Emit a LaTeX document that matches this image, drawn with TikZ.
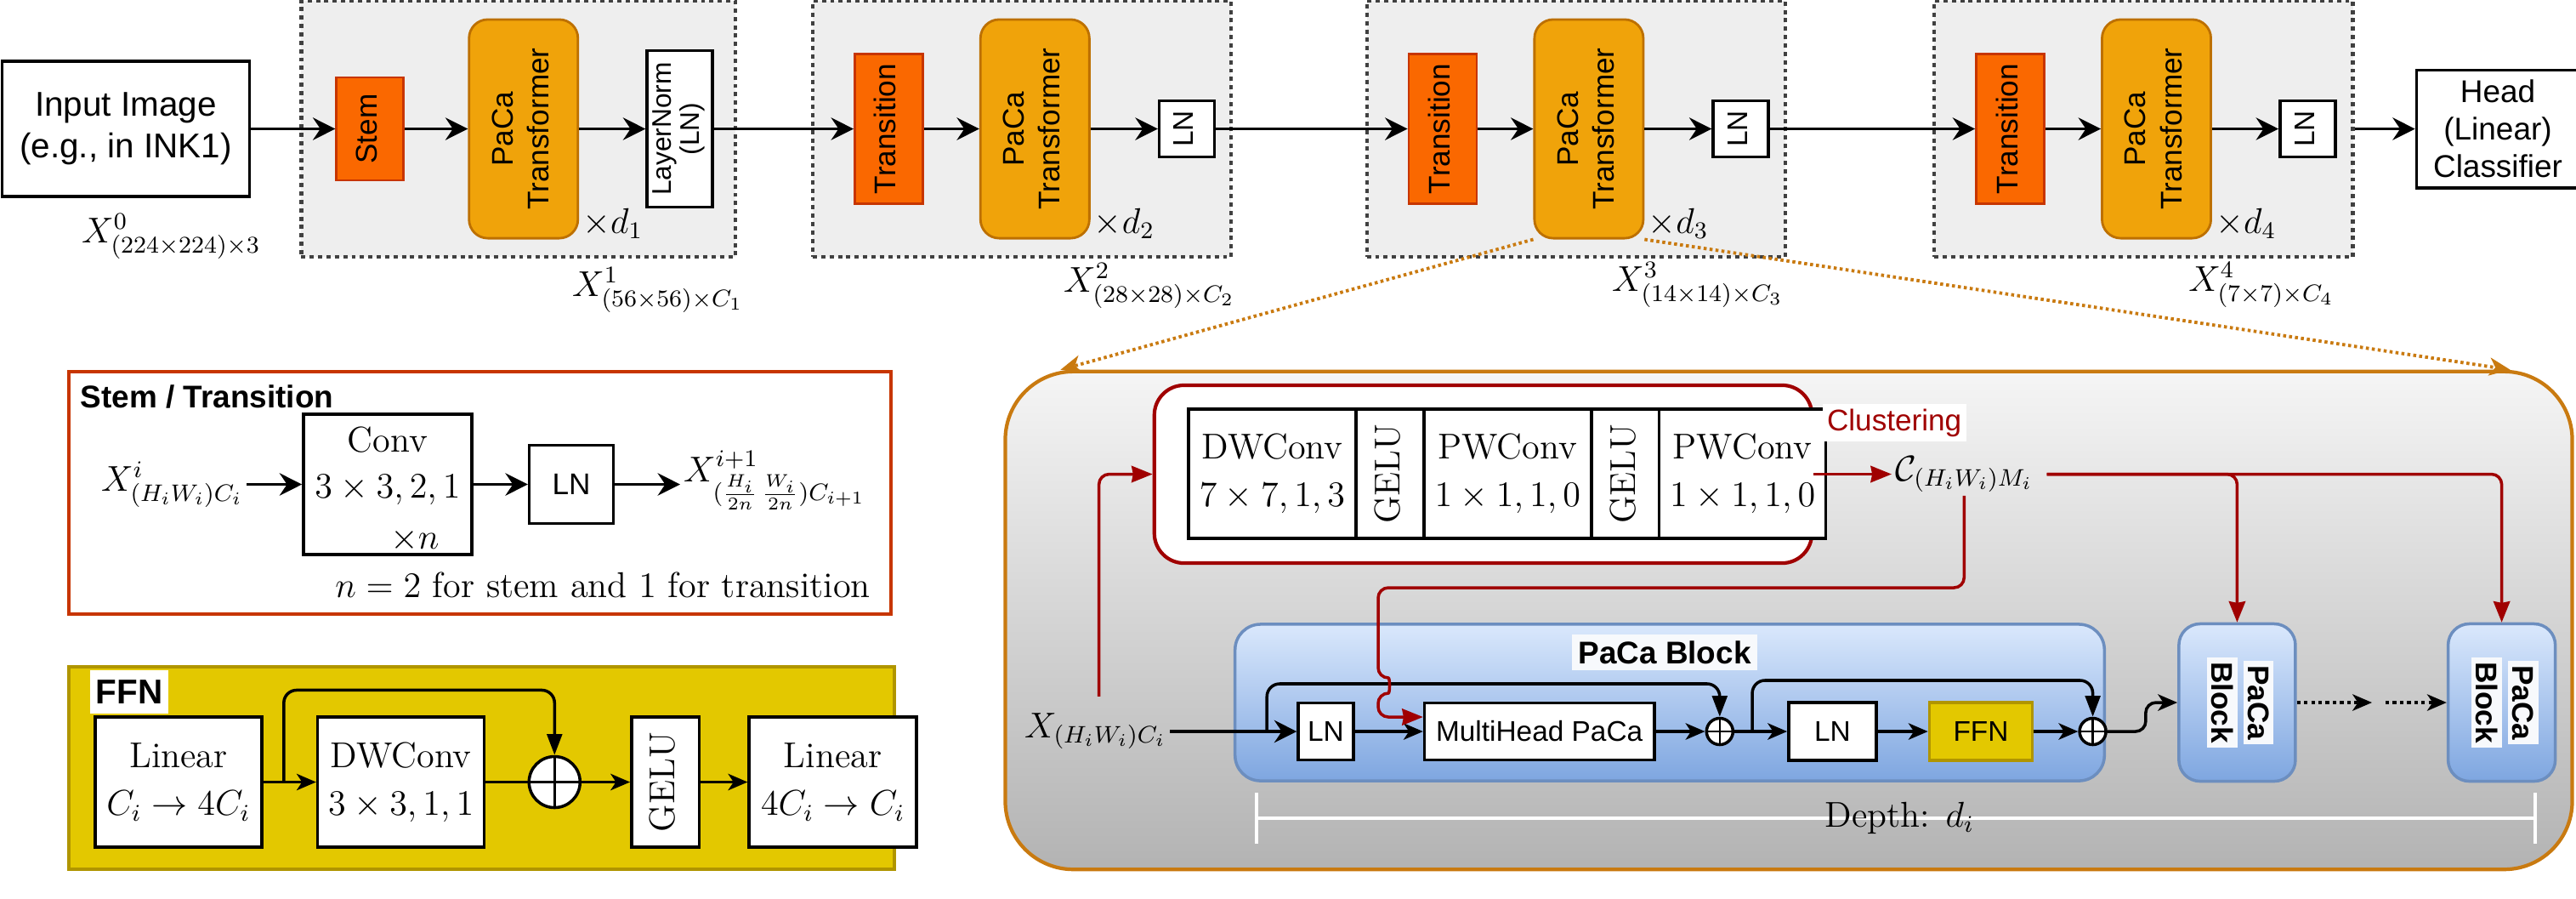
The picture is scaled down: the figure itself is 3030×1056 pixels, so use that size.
\documentclass[tikz,border=0pt]{standalone}
\usepackage{amsmath}
\usepackage{amssymb}
\usepackage{fontspec}
\usepackage{tikz}
\usetikzlibrary{arrows.meta,positioning}

\newfontfamily\hv{Liberation Sans}
\setlength{\fboxsep}{1.5pt}

\definecolor{stemfill}{HTML}{FA6800}
\definecolor{stemline}{HTML}{C73500}
\definecolor{pacafill}{HTML}{F0A30A}
\definecolor{pacaline}{HTML}{BD7000}
\definecolor{stagefill}{HTML}{EEEEEE}
\definecolor{ffnfill}{HTML}{E3C800}
\definecolor{ffnline}{HTML}{B09500}
\definecolor{clured}{HTML}{A00000}
\definecolor{zoomline}{HTML}{C97A10}
\definecolor{zoomtop}{HTML}{F5F5F5}
\definecolor{zoombot}{HTML}{B3B3B3}
\definecolor{blocktop}{HTML}{DAE8FC}
\definecolor{blockbot}{HTML}{7EA6E0}
\definecolor{blockline}{HTML}{6C8EBF}
\definecolor{labelbg}{HTML}{F7F9FC}

\newcommand{\vlab}[1]{\rotatebox{90}{\begin{tabular}{@{}c@{}}#1\end{tabular}}}
\newcommand{\vlabr}[1]{\rotatebox{-90}{\begin{tabular}{@{}c@{}}#1\end{tabular}}}

\begin{document}
\begin{tikzpicture}[x=0.01cm,y=-0.01cm,
    flow/.style={-{Stealth[length=7.5pt,width=7.5pt,inset=2.5pt]},line width=1pt},
    thinflow/.style={-{Stealth[length=6.5pt,width=5.5pt,inset=1.8pt]},line width=1pt},
    skipflow/.style={-{Stealth[length=7pt,width=5pt,inset=0pt]},line width=1pt,rounded corners=0.15cm},
    redflow/.style={-{Stealth[length=7pt,width=5.5pt,inset=0.5pt]},draw=clured,line width=1pt,rounded corners=0.12cm},
    stagebox/.style={draw=black!75,fill=stagefill,line width=1.2pt,dash pattern=on 1.4pt off 1.4pt,minimum width=4.92cm,minimum height=3.01cm},
    stembox/.style={draw=stemline,fill=stemfill,line width=0.8pt,minimum width=0.8cm,minimum height=1.73cm,font=\hv\fontsize{10}{12}\selectfont},
    pacabox/.style={draw=pacaline,fill=pacafill,line width=0.8pt,rounded corners=0.22cm,minimum width=1.28cm,minimum height=2.57cm,font=\hv\fontsize{10}{12}\selectfont},
    lnbox/.style={draw,fill=white,line width=1pt,minimum width=0.65cm,minimum height=0.66cm,inner sep=1pt,font=\hv\fontsize{9.5}{11}\selectfont},
    blk/.style={draw,fill=white,line width=1pt,align=center,font=\fontsize{12}{16}\selectfont},
    cell/.style={blk,outer sep=0pt,minimum height=1.52cm},
    sumnode/.style={circle,draw,fill=white,line width=1pt,inner sep=0pt,
      path picture={\draw[line width=0.7pt] (path picture bounding box.north) -- (path picture bounding box.south)
        (path picture bounding box.west) -- (path picture bounding box.east);}},
    blueblk/.style={draw=blockline,line width=1pt,top color=blocktop,bottom color=blockbot},
    mathlab/.style={font=\fontsize{12}{14}\selectfont,inner sep=1pt},
    sanslab/.style={font=\hv\fontsize{10}{12}\selectfont},
  ]
  \useasboundingbox (0,0) rectangle (3030,1056);

  % backbone
  \node[draw,line width=1pt,minimum width=2.91cm,minimum height=1.59cm,align=center,
        font=\hv\fontsize{11.5}{14}\selectfont] (img) at (148,151.5) {Input Image\\(e.g., in INK1)};
  \node[stagebox,minimum width=5.10cm,right=0.57cm of img] (s1) {};
  \node[stagebox,right=0.87cm of s1] (s2) {};
  \node[stagebox,right=1.55cm of s2] (s3) {};
  \node[stagebox,right=1.71cm of s3] (s4) {};
  \node[draw,line width=1pt,minimum width=1.91cm,minimum height=1.31cm,align=center,
        font=\hv\fontsize{10.5}{12.5}\selectfont,right=0.71cm of s4] (head) {Head\\(Linear)\\Classifier};

  \node[stembox,minimum width=0.79cm,minimum height=1.21cm,right=0.42cm of s1.west] (stem) {\vlab{Stem}};
  \node[pacabox,right=0.74cm of stem] (pa1) {\vlab{PaCa\\Transformer}};
  \node[lnbox,minimum width=0.77cm,minimum height=1.84cm,font=\hv\fontsize{9}{9.5}\selectfont,
        right=0.78cm of pa1] (ln1) {\vlab{LayerNorm\\(LN)}};

  \node[stembox,right=0.5cm of s2.west] (t2) {\vlab{Transition}};
  \node[pacabox,right=0.65cm of t2] (pa2) {\vlab{PaCa\\Transformer}};
  \node[lnbox,right=0.79cm of pa2] (ln2) {\vlab{LN}};

  \node[stembox,right=0.5cm of s3.west] (t3) {\vlab{Transition}};
  \node[pacabox,right=0.65cm of t3] (pa3) {\vlab{PaCa\\Transformer}};
  \node[lnbox,right=0.79cm of pa3] (ln3) {\vlab{LN}};

  \node[stembox,right=0.5cm of s4.west] (t4) {\vlab{Transition}};
  \node[pacabox,right=0.65cm of t4] (pa4) {\vlab{PaCa\\Transformer}};
  \node[lnbox,right=0.78cm of pa4] (ln4) {\vlab{LN}};

  \node[mathlab,anchor=base west] (d1) at ([yshift=0.07cm]pa1.south east) {$\times d_1$};
  \node[mathlab,anchor=base west] (d2) at ([yshift=0.07cm]pa2.south east) {$\times d_2$};
  \node[mathlab,anchor=base west] (d3) at ([yshift=0.07cm]pa3.south east) {$\times d_3$};
  \node[mathlab,anchor=base west] (d4) at ([yshift=0.07cm]pa4.south east) {$\times d_4$};

  \node[mathlab,anchor=base west] (x0) at (92,285) {$X^{0}_{(224\times 224)\times 3}$};
  \node[mathlab,anchor=base west] (x1) at (669,348) {$X^{1}_{(56\times 56)\times C_1}$};
  \node[mathlab,anchor=base west] (x2) at (1247,343) {$X^{2}_{(28\times 28)\times C_2}$};
  \node[mathlab,anchor=base west] (x3) at (1892,342) {$X^{3}_{(14\times 14)\times C_3}$};
  \node[mathlab,anchor=base west] (x4) at (2570,342) {$X^{4}_{(7\times 7)\times C_4}$};

  \path[flow]
    (img) edge (stem)
    (stem) edge (pa1)
    (pa1) edge (ln1)
    (ln1) edge (t2)
    (t2) edge (pa2)
    (pa2) edge (ln2)
    (ln2) edge (t3)
    (t3) edge (pa3)
    (pa3) edge (ln3)
    (ln3) edge (t4)
    (t4) edge (pa4)
    (pa4) edge (ln4)
    (s4) edge (head);

  % stem / transition
  \node[draw=stemline,line width=1.2pt,minimum width=9.67cm,minimum height=2.85cm] (stbox) at (564.5,579.5) {};
  \node[anchor=north west,inner sep=0pt,font=\hv\bfseries\fontsize{10.5}{12}\selectfont] (sttitle) at (94,452) {Stem / Transition};
  \node[mathlab,anchor=base west] (xin) at (115,577) {$X^{i}_{(H_iW_i)C_i}$};
  \node[blk,minimum width=1.98cm,minimum height=1.65cm] (conv) at (456,569.5) {};
  \node[mathlab,anchor=north,align=center,font=\fontsize{12}{15.5}\selectfont] (convtxt) at ([yshift=-0.12cm]conv.north) {Conv\\$3\times 3,2,1$};
  \node[mathlab,anchor=base east] (convn) at ([xshift=-0.36cm,yshift=0.08cm]conv.south east) {$\times n$};
  \node[lnbox,minimum width=0.99cm,minimum height=0.92cm,font=\hv\fontsize{10}{12}\selectfont,right=0.64cm of conv] (stln) {LN};
  \node[mathlab,anchor=base west] (xout) at (800,566) {$X^{i+1}_{(\frac{H_i}{2n}\,\frac{W_i}{2n})C_{i+1}}$};
  \node[mathlab] (stnote) at (709,688) {$n=2$ for stem and $1$ for transition};
  \draw[flow] (xin.east |- conv) -- (conv);
  \draw[flow] (conv) -- (stln);
  \draw[flow] (stln) -- (stln -| xout.west);

  % FFN
  \node[draw=ffnline,fill=ffnfill,line width=1.2pt,minimum width=9.71cm,minimum height=2.38cm] (ffnbox) at (566.5,903) {};
  \node[fill=white,anchor=north west,inner xsep=2pt,minimum width=0.8cm,minimum height=0.5cm,font=\hv\bfseries\fontsize{11.5}{13}\selectfont] (ffntitle) at (105,787) {FFN};
  \node[blk,minimum width=1.96cm,minimum height=1.53cm] (lin1) at (210,919.5) {Linear\\$C_i\rightarrow 4C_i$};
  \node[blk,minimum width=1.96cm,minimum height=1.53cm,right=0.62cm of lin1] (fdw) {DWConv\\$3\times 3,1,1$};
  \node[sumnode,minimum size=0.6cm,right=0.49cm of fdw] (fsum) {};
  \node[blk,minimum width=0.57cm,minimum height=1.53cm,right=0.57cm of fsum] (fgelu) {\vlab{GELU}};
  \node[blk,minimum width=1.97cm,minimum height=1.53cm,right=0.55cm of fgelu] (lin2) {Linear\\$4C_i\rightarrow C_i$};
  \draw[thinflow] (lin1) -- (fdw);
  \draw[line width=1pt] (fdw) -- (fsum);
  \draw[thinflow] (fsum) -- (fgelu);
  \draw[thinflow] (fgelu) -- (lin2);
  \draw[skipflow] ([xshift=0.24cm]lin1.east) -- ++(0,1.08cm) -| (fsum.north);

  % zoomed stage
  \node[draw=zoomline,line width=1.2pt,rounded corners=0.8cm,top color=zoomtop,bottom color=zoombot,
        minimum width=18.42cm,minimum height=5.85cm] (zoombox) at (2104,729.5) {};

  \node[draw=clured,fill=white,line width=1.2pt,rounded corners=0.35cm,minimum width=7.73cm,minimum height=2.09cm] (clubox) at (1744.5,557.5) {};
  \node[cell,minimum width=1.97cm] (cdw) at (1496.5,557) {DWConv\\$7\times 7,1,3$};
  \node[cell,minimum width=0.56cm,right=0pt of cdw] (cg1) {\vlab{GELU}};
  \node[cell,minimum width=1.97cm,right=0pt of cg1] (cpw1) {PWConv\\$1\times 1,1,0$};
  \node[cell,minimum width=0.56cm,right=0pt of cpw1] (cg2) {\vlab{GELU}};
  \node[cell,minimum width=1.96cm,right=0pt of cg2] (cpw2) {PWConv\\$1\times 1,1,0$};
  \node[fill=white,text=clured,anchor=west,inner sep=1.5pt,font=\hv\fontsize{10}{12}\selectfont] (clulab) at (2143,497) {Clustering};
  \node[mathlab,anchor=base west] (cmap) at (2225,565) {$\mathcal{C}_{(H_iW_i)M_i}$};

  \node[mathlab,anchor=base west] (xi) at (1201,867) {$X_{(H_iW_i)C_i}$};

  \node[blueblk,rounded corners=0.3cm,minimum width=10.22cm,minimum height=1.84cm] (pblk) at (1964,826) {};
  \node[fill=labelbg,inner sep=2pt,font=\hv\bfseries\fontsize{10.5}{12}\selectfont] (pblklab) at (1958,767) {PaCa Block};
  \node[lnbox,minimum width=0.65cm,minimum height=0.67cm] (bln1) at (1559.5,860) {LN};
  \node[lnbox,minimum width=2.70cm,minimum height=0.67cm,right=0.8cm of bln1] (mh) {MultiHead PaCa};
  \node[sumnode,minimum size=0.31cm,right=0.58cm of mh] (bsum1) {};
  \node[lnbox,minimum width=1.03cm,minimum height=0.68cm,right=0.62cm of bsum1] (bln2) {LN};
  \node[lnbox,draw=ffnline,fill=ffnfill,minimum width=1.21cm,minimum height=0.68cm,right=0.59cm of bln2] (bffn) {FFN};
  \node[sumnode,minimum size=0.31cm,right=0.52cm of bffn] (bsum2) {};

  \node[blueblk,rounded corners=0.25cm,minimum width=1.37cm,minimum height=1.85cm,
        font=\hv\bfseries\fontsize{10}{12}\selectfont,right=0.84cm of pblk] (blk2)
        {\vlabr{\colorbox{labelbg}{PaCa}\\\colorbox{labelbg}{Block}}};
  \node[blueblk,rounded corners=0.25cm,minimum width=1.26cm,minimum height=1.85cm,
        font=\hv\bfseries\fontsize{10}{12}\selectfont,right=1.76cm of blk2] (blk3)
        {\vlabr{\colorbox{labelbg}{PaCa}\\\colorbox{labelbg}{Block}}};
  \coordinate (gap1) at (2790,826);
  \coordinate (gap2) at (2806,826);

  \draw[flow] (xi.east |- bln1) -- (bln1);
  \path[thinflow]
    (bln1) edge (mh)
    (mh) edge (bsum1)
    (bsum1) edge (bln2)
    (bln2) edge (bffn)
    (bffn) edge (bsum2);
  \draw[skipflow] ([xshift=-0.35cm]bln1.west) -- ++(0,0.56cm) -| (bsum1.north);
  \draw[skipflow] ([xshift=0.21cm]bsum1.east) -- ++(0,0.60cm) -| (bsum2.north);
  \draw[thinflow,rounded corners=0.12cm] (bsum2.east) -- ++(0.45cm,0) |- (blk2.west);
  \draw[thinflow,dash pattern=on 1.2pt off 1.2pt] (blk2) -- (gap1);
  \draw[thinflow,dash pattern=on 1.2pt off 1.2pt] (gap2) -- (blk3);

  % clustering links
  \coordinate (cout) at ([xshift=0.12cm]cmap.east);
  \draw[redflow] ([xshift=0.04cm,yshift=0.15cm]xi.north) |- (clubox.west);
  \draw[redflow,rounded corners=0pt] (clubox) -- (clubox -| cmap.west);
  \draw[redflow] (cout |- clubox) -| (blk2.north);
  \draw[redflow] (cout |- clubox) -| (blk3.north);
  \draw[redflow] (cmap.south) -- (cmap.south |- 0,691) -- (1621,691) -- (1621,797)
    .. controls (1635,797) and (1635,815) .. (1621,815) -- (1621,843) -- ([yshift=0.17cm]mh.west);

  % depth
  \coordinate (dl) at (1476,962);
  \coordinate (dr) at (2984,962);
  \draw[white,line width=1.2pt,{Bar[width=0.6cm]}-{Bar[width=0.6cm]}] (dl) -- (dr)
    node[mathlab,text=black,pos=0.503] (depth) {Depth: $d_i$};

  % zoom lines
  \draw[zoomline,line width=1.1pt,dash pattern=on 1pt off 1pt,-{Stealth[length=7pt,width=6pt,inset=2pt]}]
    (pa3.south west) -- ([xshift=0.67cm]zoombox.north west);
  \draw[zoomline,line width=1.1pt,dash pattern=on 1pt off 1pt,-{Stealth[length=7pt,width=6pt,inset=2pt]}]
    (pa3.south east) -- ([xshift=-0.75cm]zoombox.north east);
\end{tikzpicture}
\end{document}
